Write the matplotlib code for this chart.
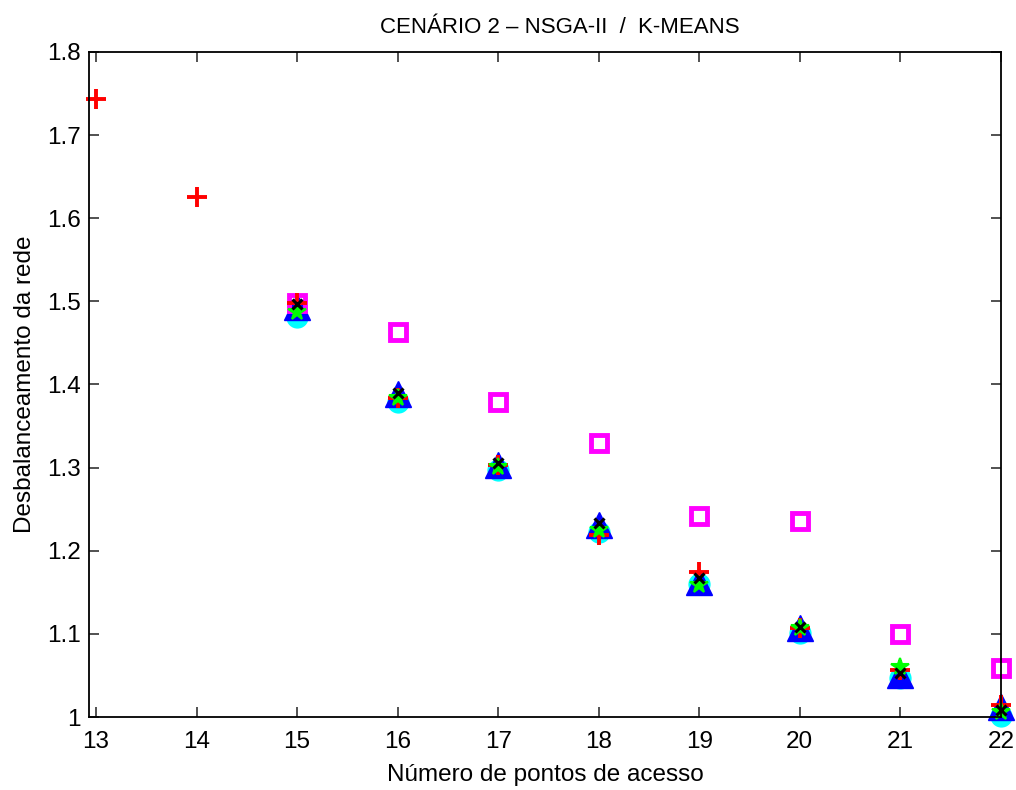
import matplotlib

matplotlib.use("Agg")
import matplotlib.pyplot as plt

plt.rcParams["font.family"] = ["Liberation Sans", "DejaVu Sans"]

# dados
x_all = [13, 14, 15, 16, 17, 18, 19, 20, 21, 22]
x_sub = [15, 16, 17, 18, 19, 20, 21, 22]

cyan_vals = [1.481, 1.379, 1.297, 1.223, 1.160, 1.101, 1.047, 1.001]
blue_vals = [1.493, 1.388, 1.303, 1.231, 1.162, 1.107, 1.051, 1.012]
magenta_vals = [1.498, 1.463, 1.379, 1.330, 1.242, 1.236, 1.100, 1.059]
red_vals = [1.744, 1.626, 1.498, 1.384, 1.303, 1.219, 1.174, 1.107, 1.057, 1.015]
green_vals = [1.487, 1.384, 1.301, 1.225, 1.159, 1.107, 1.060, 1.006]
black_vals = [1.497, 1.390, 1.306, 1.233, 1.167, 1.108, 1.053, 1.008]

x_ticks = list(range(13, 23))
y_ticks = [1.0, 1.1, 1.2, 1.3, 1.4, 1.5, 1.6, 1.7, 1.8]
y_ticklabels = ["1", "1.1", "1.2", "1.3", "1.4", "1.5", "1.6", "1.7", "1.8"]


def main():
    fig = plt.figure(figsize=(10.16, 7.9), dpi=100)
    ax = fig.add_axes([0.0876, 0.0924, 0.8974, 0.8418])

    ax.plot(x_sub, cyan_vals, "o", color="#00ffff", markersize=15, markeredgecolor="#00ffff", clip_on=False)
    ax.plot(x_sub, blue_vals, "^", color="#0000ff", markersize=19, markeredgecolor="#0000ff", clip_on=False)
    ax.plot(x_sub, magenta_vals, "s", markerfacecolor="none", markeredgecolor="#ff00ff",
            markersize=12, markeredgewidth=3.5, clip_on=False)
    ax.plot(x_all, red_vals, "+", color="#ff0000", markersize=15, markeredgewidth=2.8, clip_on=False)
    ax.plot(x_sub, green_vals, "*", color="#00ff00", markersize=13, markeredgewidth=1.5, clip_on=False)
    ax.plot(x_sub, black_vals, "x", color="black", markersize=7, markeredgewidth=2.2, clip_on=False)

    ax.set_xlim(12.93, 22.0)
    ax.set_ylim(1.0, 1.8)
    ax.set_xticks(x_ticks)
    ax.set_yticks(y_ticks)
    ax.set_yticklabels(y_ticklabels)
    ax.tick_params(direction="in", top=True, right=True, length=7, width=1.2,
                   labelsize=17.5, color="#333333")
    ax.tick_params(axis="x", pad=10)
    ax.tick_params(axis="y", pad=6)
    for spine in ax.spines.values():
        spine.set_linewidth(1.3)

    ax.set_xlabel("Número de pontos de acesso", fontsize=17.5, labelpad=8)
    ax.set_ylabel("Desbalanceamento da rede", fontsize=17.5, labelpad=8)
    ax.set_title("CENÁRIO 2 – NSGA-II  /  K-MEANS", fontsize=16, pad=14, x=0.516)

    fig.savefig("out.png", dpi=100)
    plt.close(fig)


if __name__ == "__main__":
    main()
